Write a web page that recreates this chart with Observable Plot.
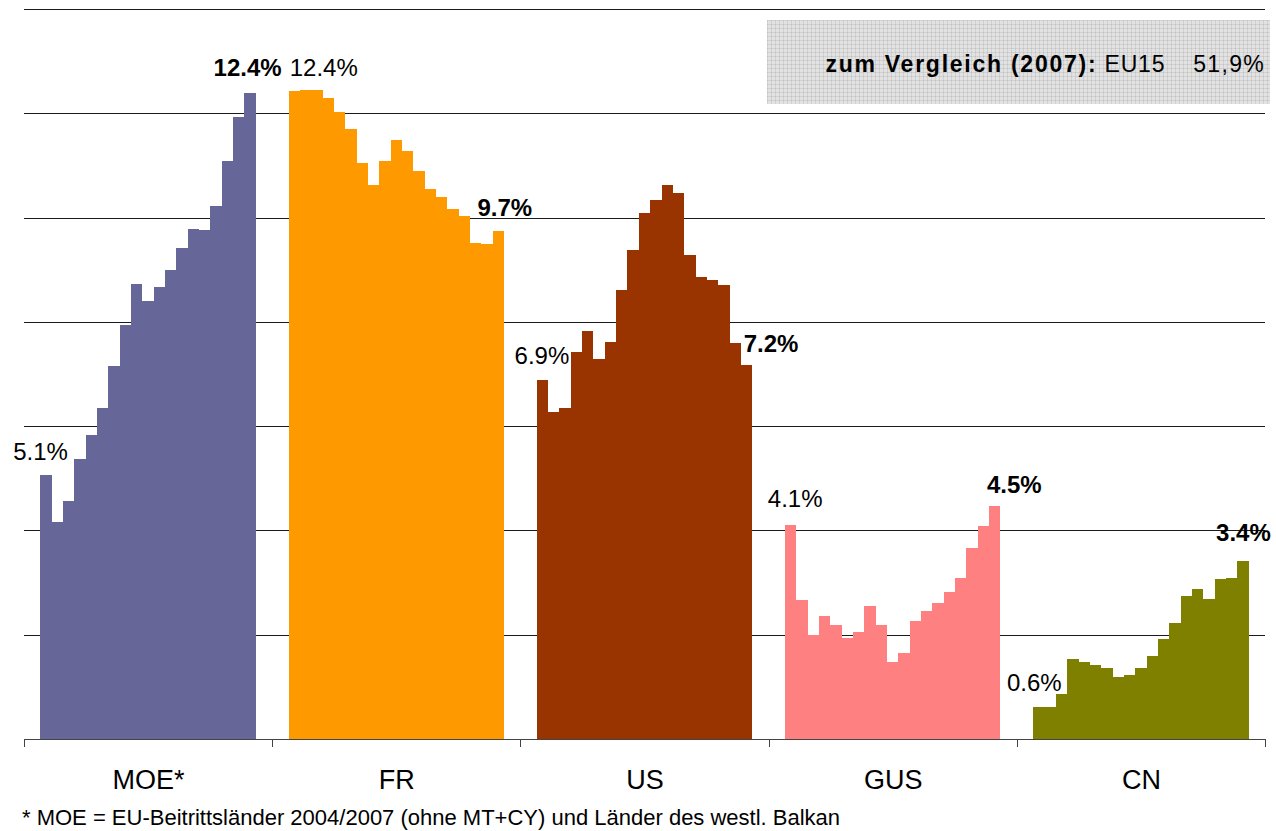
<!DOCTYPE html>
<html>
<head>
<meta charset="utf-8">
<script src="https://cdn.jsdelivr.net/npm/d3@7"></script>
<script src="https://cdn.jsdelivr.net/npm/@observablehq/plot@0.6"></script>
<style>
  html, body { margin: 0; padding: 0; background: #fff; }
  #wrap { position: relative; width: 1276px; height: 831px; font-family: "Liberation Sans", Arial, Helvetica, sans-serif; color: #000; }
  #chart svg { display: block; }
  #box {
    position: absolute; left: 767px; top: 20px; width: 503px; height: 84px;
    background-color: #e2e2e2;
    background-image:
      linear-gradient(to right, rgba(0,0,0,0.075) 1px, transparent 1px),
      linear-gradient(to bottom, rgba(0,0,0,0.075) 1px, transparent 1px);
    background-size: 4px 4px;
  }
  #box .line { position: absolute; right: 5px; top: 33px; font-size: 23px; line-height: 23px; white-space: nowrap; }
  #box b { letter-spacing: 1.75px; }
  #box .lab { letter-spacing: 0.8px; margin-left: 0px; }
  #box .val { letter-spacing: 1.3px; margin-left: 28px; }
  #note { position: absolute; left: 22px; top: 807px; font-size: 22px; line-height: 22px; white-space: nowrap; }
</style>
</head>
<body>
<div id="wrap">
  <div id="chart"></div>
  <div id="box"><div class="line"></div></div>
  <div id="note"></div>
</div>
<script>
// ---- data ----
const groups = ["MOE*", "FR", "US", "GUS", "CN"];
const years = [1989, 1990, 1991, 1992, 1993, 1994, 1995, 1996, 1997, 1998, 1999, 2000, 2001, 2002, 2003, 2004, 2005, 2006, 2007];
const moe = [5.06, 4.16, 4.56, 5.37, 5.83, 6.35, 7.16, 7.94, 8.73, 8.40, 8.67, 9.00, 9.42, 9.78, 9.76, 10.22, 11.08, 11.92, 12.38];
const fr  = [12.43, 12.45, 12.45, 12.30, 12.03, 11.70, 11.05, 10.62, 11.08, 11.49, 11.27, 10.89, 10.55, 10.40, 10.16, 10.03, 9.52, 9.49, 9.74];
const us  = [6.89, 6.27, 6.35, 7.42, 7.82, 7.29, 7.61, 8.61, 9.38, 10.08, 10.34, 10.62, 10.47, 9.28, 8.86, 8.80, 8.71, 7.59, 7.17];
const gus = [4.11, 2.67, 2.00, 2.36, 2.19, 1.94, 2.06, 2.56, 2.19, 1.48, 1.64, 2.27, 2.46, 2.60, 2.82, 3.09, 3.67, 4.08, 4.46];
const cn  = [0.62, 0.62, 0.87, 1.54, 1.48, 1.42, 1.37, 1.19, 1.23, 1.37, 1.60, 1.92, 2.23, 2.75, 2.88, 2.69, 3.07, 3.09, 3.42];
const yTicks = [0, 2, 4, 6, 8, 10, 12, 14];
const compareTitle = "zum Vergleich (2007):";
const compareLabel = "EU15";
const compareValue = 51.9;
const footnote = "* MOE = EU-Beitrittsländer 2004/2007 (ohne MT+CY) und Länder des westl. Balkan";

// ---- styling / layout ----
const colors = ["#666699", "#FF9900", "#993300", "#FF8080", "#808000"];
const seriesValues = [moe, fr, us, gus, cn];
const fillFrac = 0.868;                 // share of a group band covered by bars
const pad = (1 - fillFrac) / 2;
const bw = fillFrac / years.length;
// label nudges [dx, dy] in px: first label then last label per group
const nudges = [[-6, -16], [-3, -18], [29, -15], [6, -16], [-1, -16], [24, -14], [4, -18], [19, -14], [-5, -16], [0, -20]];

const bars = groups.flatMap((g, gi) => seriesValues[gi].map((v, i) => ({group: g, gi, i, year: years[i], value: v})));
const labels = groups.flatMap((g, gi) => {
  const vals = seriesValues[gi], n = vals.length;
  return [
    {group: g, gi, i: 0, value: vals[0], bold: false},
    {group: g, gi, i: n - 1, value: vals[n - 1], bold: true}
  ];
});

const font = "'Liberation Sans', Arial, Helvetica, sans-serif";

const labelMarks = labels.map((d, k) => Plot.text([d], {
  x: (d) => d.gi + pad + (d.i + 0.5) * bw,
  y: "value",
  text: (d) => d.value.toFixed(1) + "%",
  dx: nudges[k][0],
  dy: nudges[k][1],
  lineAnchor: "bottom",
  textAnchor: "middle",
  fontSize: 24,
  fontWeight: d.bold ? "bold" : "normal",
  fill: "#000"
}));

const chart = Plot.plot({
  width: 1276,
  height: 800,
  marginLeft: 24,
  marginRight: 11,
  marginTop: 9,
  marginBottom: 61,
  style: {fontFamily: font, background: "transparent", overflow: "visible", color: "#000"},
  x: {domain: [0, groups.length], axis: null},
  y: {domain: [0, 14], axis: null},
  color: {domain: groups, range: colors},
  marks: [
    Plot.ruleY(yTicks.filter((t) => t > 0), {stroke: "#1a1a1a", strokeWidth: 1, shapeRendering: "crispEdges"}),
    Plot.rectY(bars, {
      x1: (d) => d.gi + pad + d.i * bw,
      x2: (d) => d.gi + pad + (d.i + 1) * bw,
      y: "value",
      fill: "group",
      shapeRendering: "crispEdges"
    }),
    Plot.ruleY([0], {stroke: "#444", strokeWidth: 1, shapeRendering: "crispEdges"}),
    Plot.ruleX(d3.range(groups.length + 1), {x: (d) => d, y1: () => 0, y2: () => 0, insetBottom: -8, stroke: "#444", shapeRendering: "crispEdges"}),
    Plot.text(groups, {
      x: (d, i) => i + 0.5,
      text: (d) => d,
      frameAnchor: "bottom",
      lineAnchor: "bottom",
      dy: 49,
      fontSize: 27,
      fill: "#000"
    }),
    ...labelMarks
  ]
});
document.getElementById("chart").appendChild(chart);

// comparison box
const line = document.querySelector("#box .line");
const b = document.createElement("b"); b.textContent = compareTitle; line.appendChild(b);
const s1 = document.createElement("span"); s1.className = "lab"; s1.textContent = " " + compareLabel; line.appendChild(s1);
const s2 = document.createElement("span"); s2.className = "val"; s2.textContent = compareValue.toFixed(1).replace(".", ",") + "%"; line.appendChild(s2);

document.getElementById("note").textContent = footnote;
</script>
</body>
</html>
